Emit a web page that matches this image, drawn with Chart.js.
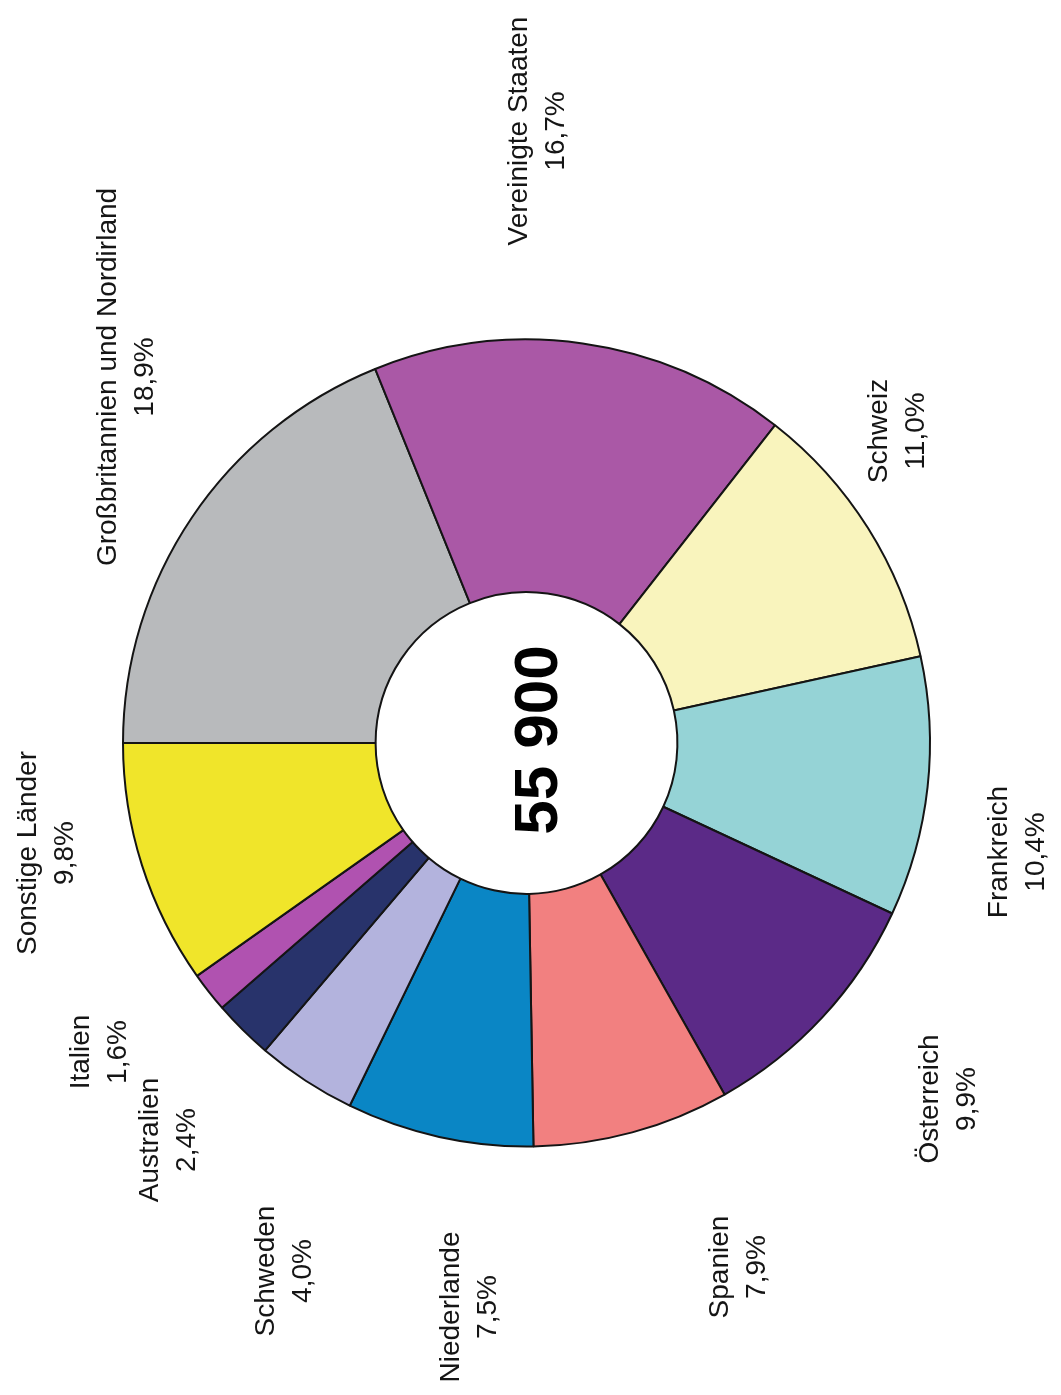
<!DOCTYPE html>
<html>
<head>
<meta charset="utf-8">
<script src="https://cdn.jsdelivr.net/npm/chart.js@4.4.1/dist/chart.umd.min.js"></script>
<style>
  html, body { margin: 0; padding: 0; background: #ffffff; }
  #wrap { width: 1061px; height: 1395px; }
</style>
</head>
<body>
<div id="wrap"><canvas id="c" width="1061" height="1395"></canvas></div>
<script>
// ---- data ----
const categories = [
  "Großbritannien und Nordirland",
  "Vereinigte Staaten",
  "Schweiz",
  "Frankreich",
  "Österreich",
  "Spanien",
  "Niederlande",
  "Schweden",
  "Australien",
  "Italien",
  "Sonstige Länder"
];
const shares = [18.9, 16.7, 11.0, 10.4, 9.9, 7.9, 7.5, 4.0, 2.4, 1.6, 9.8];
const totalLabel = "55 900";
const sliceColors = [
  "#b8babc", "#aa58a6", "#f9f4bd", "#95d3d6", "#5b2a87", "#f28080",
  "#0a86c5", "#b3b3dd", "#28336b", "#b052b0", "#f0e52a"
];

// label anchor offsets from the doughnut centre (line-1 baseline, text rotated 90° CCW)
const labelOffsets = [
  [-411, -366], [0, -612], [360, -312], [480, 109], [411, 356], [201, 524],
  [-68, 564], [-253, 528], [-369, 397], [-438, 309], [-491, 110]
];

function pctText(v) { return v.toFixed(1).replace('.', ',') + '%'; }

const labelPlugin = {
  id: 'rotLabels',
  afterDatasetsDraw(chart) {
    const ctx = chart.ctx;
    const arcs = chart.getDatasetMeta(0).data;
    if (!arcs.length) return;
    const cx = arcs[0].x, cy = arcs[0].y;
    ctx.save();
    ctx.fillStyle = '#151515';
    ctx.textAlign = 'center';
    ctx.textBaseline = 'alphabetic';
    ctx.font = '28px "Liberation Sans", Arial, sans-serif';
    categories.forEach((name, i) => {
      const [dx, dy] = labelOffsets[i];
      ctx.save();
      ctx.translate(cx + dx, cy + dy);
      ctx.rotate(-Math.PI / 2);
      ctx.fillText(name, 0, 0);
      ctx.fillText(pctText(shares[i]), 0, 37);
      ctx.restore();
    });
    // centre total
    ctx.font = 'bold 62px "Liberation Sans", Arial, sans-serif';
    ctx.fillStyle = '#000000';
    ctx.save();
    ctx.translate(cx + 30, cy - 3);
    ctx.rotate(-Math.PI / 2);
    ctx.fillText(totalLabel, 0, 0);
    ctx.restore();
    ctx.restore();
  }
};

new Chart(document.getElementById('c'), {
  type: 'doughnut',
  data: {
    labels: categories,
    datasets: [{
      data: shares,
      backgroundColor: sliceColors,
      borderColor: '#141414',
      borderWidth: 2,
      hoverOffset: 0,
      offset: 0
    }]
  },
  options: {
    responsive: false,
    animation: false,
    events: [],
    rotation: -90,
    cutout: '37.4%',
    layout: { padding: { left: 122, right: 130, top: 338, bottom: 247 } },
    plugins: {
      legend: { display: false },
      tooltip: { enabled: false },
      title: { display: false }
    }
  },
  plugins: [labelPlugin]
});
</script>
</body>
</html>
